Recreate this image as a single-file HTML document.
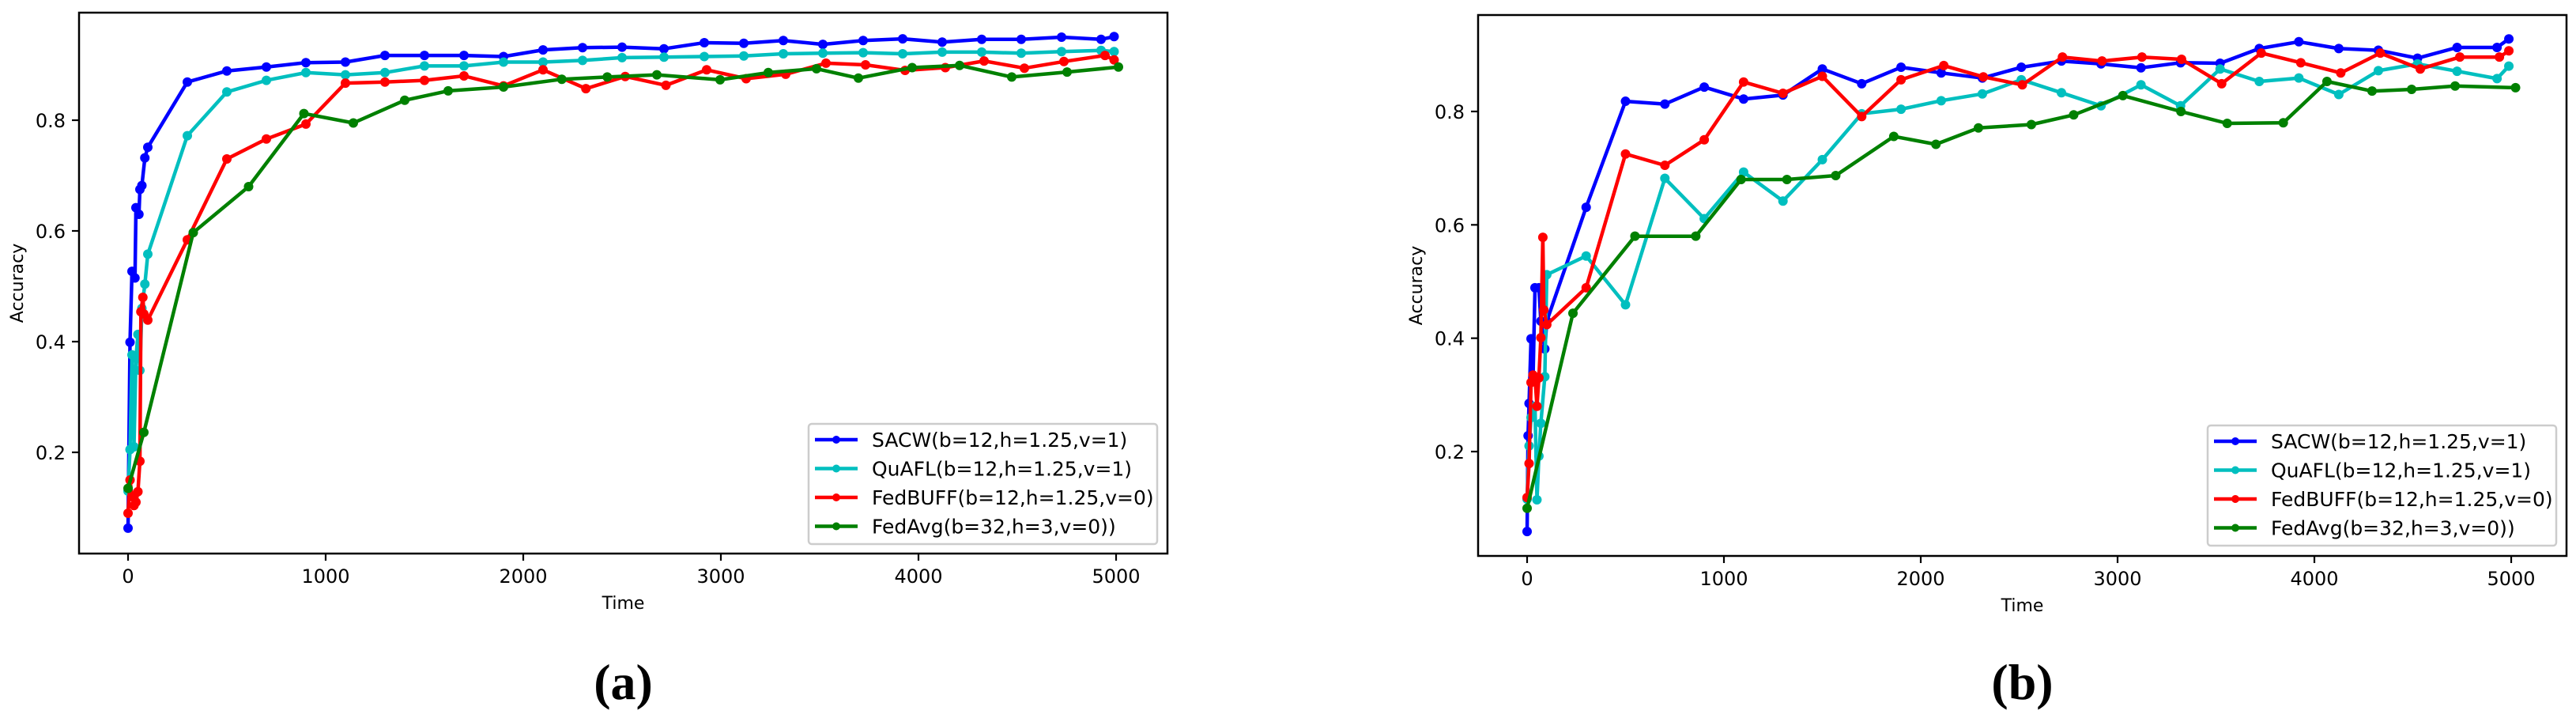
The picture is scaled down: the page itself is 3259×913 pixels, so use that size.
<!DOCTYPE html>
<html><head><meta charset="utf-8"><style>
html,body{margin:0;padding:0;background:#fff;width:3259px;height:913px;overflow:hidden}
svg{display:block}
text{font-family:"DejaVu Sans","Liberation Sans",sans-serif;fill:#000}
</style></head><body>
<svg id="fig" width="3259" height="913" viewBox="0 0 3259 913" xmlns="http://www.w3.org/2000/svg"></svg>
<script>
// ---- data panel (a) ----
const aSacwT=[0,10,20,35,40,55,60,70,85,100,300,500,700,900,1100,1300,1500,1700,1900,2100,2300,2500,2712,2916,3116,3316,3516,3720,3920,4120,4320,4520,4724,4924,4990];
const aSacwV=[0.063,0.399,0.527,0.515,0.642,0.63,0.675,0.682,0.732,0.751,0.869,0.889,0.896,0.904,0.905,0.917,0.917,0.917,0.915,0.927,0.931,0.932,0.929,0.940,0.939,0.944,0.937,0.944,0.947,0.941,0.946,0.946,0.950,0.946,0.951];
const aQuaflT=[0,10,20,30,40,50,60,70,85,100,300,500,700,900,1100,1300,1500,1700,1900,2100,2300,2500,2712,2916,3116,3316,3516,3720,3920,4120,4320,4520,4724,4924,4990];
const aQuaflV=[0.13,0.205,0.376,0.21,0.37,0.413,0.348,0.46,0.504,0.558,0.772,0.851,0.872,0.886,0.882,0.886,0.898,0.898,0.905,0.905,0.908,0.913,0.914,0.915,0.916,0.920,0.921,0.922,0.920,0.923,0.923,0.921,0.924,0.926,0.924];
const aFedbuffT=[0,10,20,30,40,50,60,65,75,80,100,300,500,700,900,1100,1300,1500,1700,1900,2100,2317,2516,2722,2928,3128,3328,3532,3732,3932,4136,4332,4536,4736,4944,4990];
const aFedbuffV=[0.090,0.15,0.12,0.104,0.11,0.129,0.184,0.454,0.48,0.45,0.439,0.584,0.730,0.766,0.793,0.867,0.869,0.872,0.880,0.862,0.891,0.857,0.879,0.863,0.891,0.875,0.883,0.903,0.900,0.890,0.895,0.907,0.894,0.906,0.917,0.909];
const aFedavgT=[0,80,330,610,890,1140,1400,1620,1900,2195,2425,2676,2996,3240,3484,3696,3968,4208,4472,4752,5012];
const aFedavgV=[0.135,0.236,0.597,0.68,0.812,0.795,0.836,0.853,0.860,0.874,0.878,0.882,0.873,0.886,0.893,0.876,0.895,0.899,0.878,0.887,0.896];
// ---- data panel (b) ----
const bSacwT=[0,5,10,20,30,40,60,70,90,100,300,500,700,900,1100,1300,1500,1700,1900,2104,2313,2511,2715,2916,3119,3320,3521,3720,3921,4124,4325,4524,4725,4928,4988];
const bSacwV=[0.059,0.228,0.285,0.399,0.33,0.489,0.489,0.43,0.381,0.43,0.631,0.818,0.813,0.843,0.822,0.829,0.875,0.849,0.878,0.868,0.859,0.878,0.889,0.884,0.877,0.886,0.885,0.911,0.923,0.911,0.908,0.894,0.913,0.913,0.928];
const bQuaflT=[0,10,20,40,50,60,70,90,100,300,500,700,900,1100,1300,1500,1700,1900,2104,2313,2511,2715,2916,3119,3320,3521,3720,3921,4124,4325,4524,4725,4928,4988];
const bQuaflV=[0.116,0.21,0.26,0.28,0.115,0.192,0.25,0.332,0.512,0.545,0.459,0.682,0.611,0.693,0.642,0.715,0.796,0.804,0.819,0.831,0.856,0.833,0.810,0.847,0.810,0.875,0.853,0.859,0.830,0.872,0.884,0.871,0.858,0.880];
const bFedbuffT=[0,10,20,30,40,50,60,70,80,85,100,300,500,700,900,1100,1300,1500,1700,1900,2117,2318,2516,2720,2921,3124,3325,3529,3730,3931,4134,4335,4538,4739,4940,4988];
const bFedbuffV=[0.119,0.179,0.322,0.335,0.33,0.280,0.33,0.401,0.578,0.45,0.424,0.489,0.725,0.705,0.750,0.852,0.832,0.862,0.791,0.856,0.881,0.861,0.847,0.896,0.889,0.896,0.892,0.849,0.903,0.886,0.868,0.903,0.875,0.896,0.896,0.907];
const bFedavgT=[0,233,548,857,1087,1320,1568,1863,2077,2293,2562,2777,3027,3322,3557,3842,4064,4293,4494,4715,5022];
const bFedavgV=[0.10,0.444,0.580,0.580,0.680,0.680,0.687,0.756,0.742,0.771,0.777,0.794,0.828,0.800,0.779,0.780,0.853,0.836,0.839,0.845,0.842];
const seriesNames=["SACW(b=12,h=1.25,v=1)","QuAFL(b=12,h=1.25,v=1)","FedBUFF(b=12,h=1.25,v=0)","FedAvg(b=32,h=3,v=0))"];
const seriesColors=["#0000ff","#00bfbf","#ff0000","#008000"];
const xTicks=[0,1000,2000,3000,4000,5000];
const yTicks=[0.2,0.4,0.6,0.8];
const yTickLabels=["0.2","0.4","0.6","0.8"];

const NS="http://www.w3.org/2000/svg";
const svg=document.getElementById('fig');
function mk(tag,attrs,parent){const e=document.createElementNS(NS,tag);for(const k in attrs)e.setAttribute(k,attrs[k]);(parent||svg).appendChild(e);return e;}

function panel(id,box,xlim,ylim,series,legBox,letter){
  const g=mk('g',{});
  
  
  const sx=v=>box.x0+(v-xlim[0])/(xlim[1]-xlim[0])*(box.x1-box.x0);
  const sy=v=>box.y1-(v-ylim[0])/(ylim[1]-ylim[0])*(box.y1-box.y0);
  series.forEach((s,i)=>{
    const sg=mk('g',{},g);
    
    
    const pts=s.t.map((t,j)=>sx(t).toFixed(1)+','+sy(s.v[j]).toFixed(1)).join(' ');
    const pl=mk('polyline',{points:pts,fill:'none',stroke:seriesColors[i],'stroke-width':4.5,'stroke-linejoin':'round'},sg);
    
    
    s.t.forEach((t,j)=>{
      const c=mk('circle',{cx:sx(t),cy:sy(s.v[j]),r:6,fill:seriesColors[i]},sg);
      
      
    });
  });
  const frame=mk('rect',{x:box.x0,y:box.y0,width:box.x1-box.x0,height:box.y1-box.y0,fill:'none',stroke:'#000','stroke-width':2.5},g);
  
  
  xTicks.forEach(t=>{
    const x=sx(t);
    mk('line',{x1:x,x2:x,y1:box.y1,y2:box.y1+9,stroke:'#000','stroke-width':2.2},g);
    const tx=mk('text',{x:x,y:box.y1+37,'font-size':24,'text-anchor':'middle'},g);
    tx.textContent=String(t);
    
    
  });
  yTicks.forEach((t,k)=>{
    const y=sy(t);
    mk('line',{x1:box.x0-9,x2:box.x0,y1:y,y2:y,stroke:'#000','stroke-width':2.2},g);
    const tx=mk('text',{x:box.x0-17,y:y+9,'font-size':24,'text-anchor':'end'},g);
    tx.textContent=yTickLabels[k];
    
    
  });
  const yl=mk('text',{x:0,y:0,'font-size':22,'text-anchor':'middle',transform:`translate(${box.x0-71},${(box.y0+box.y1)/2}) rotate(-90)`},g);
  yl.textContent='Accuracy';
  
  
  const xl=mk('text',{x:(box.x0+box.x1)/2,y:box.y1+70,'font-size':22,'text-anchor':'middle'},g);
  xl.textContent='Time';
  
  
  // legend
  const lg=mk('g',{},g);
  
  
  mk('rect',{x:legBox.x,y:legBox.y,width:441,height:152,rx:4,fill:'#fff','fill-opacity':0.8,stroke:'#cccccc','stroke-width':2.5},lg);
  seriesNames.forEach((n,i)=>{
    const y=legBox.y+20+i*36.5;
    const e=mk('g',{},lg);
    
    
    mk('line',{x1:legBox.x+8,x2:legBox.x+62,y1:y,y2:y,stroke:seriesColors[i],'stroke-width':4.5},e);
    mk('circle',{cx:legBox.x+35,cy:y,r:5,fill:seriesColors[i]},e);
    const t=mk('text',{x:legBox.x+80,y:y+9,'font-size':25},e);
    t.textContent=n;
  });
  const lt=mk('text',{x:(box.x0+box.x1)/2,y:884,'font-size':64,'font-weight':'bold','text-anchor':'middle',style:'font-family:"Liberation Serif",serif'},g);
  lt.textContent=letter;
  
  
}

panel('a',{x0:100,x1:1477,y0:16,y1:700},[-248,5260],[0.2-128/700,0.8+136/700],
  [{t:aSacwT,v:aSacwV},{t:aQuaflT,v:aQuaflV},{t:aFedbuffT,v:aFedbuffV},{t:aFedavgT,v:aFedavgV}],
  {x:1023,y:536},'(a)');
panel('b',{x0:1870,x1:3247,y0:19,y1:703},[-249,5281],[0.2-132/717,0.8+122/717],
  [{t:bSacwT,v:bSacwV},{t:bQuaflT,v:bQuaflV},{t:bFedbuffT,v:bFedbuffV},{t:bFedavgT,v:bFedavgV}],
  {x:2793,y:538},'(b)');
</script>
</body></html>
